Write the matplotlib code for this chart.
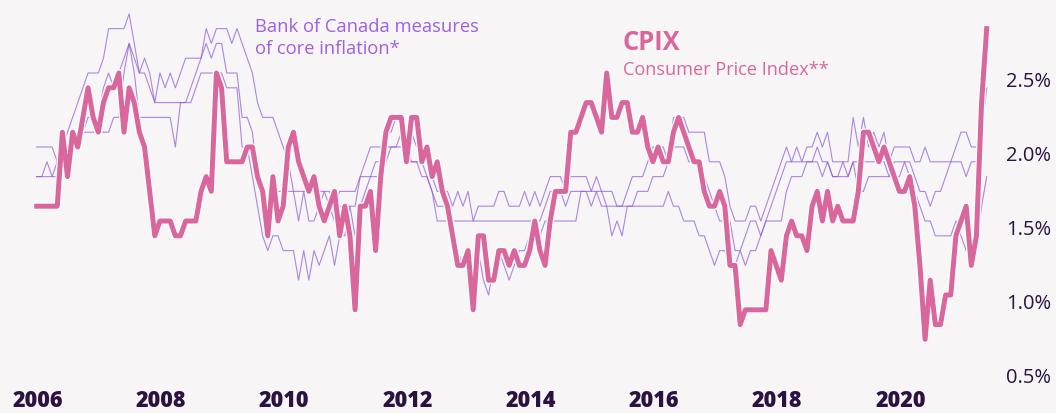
import numpy as np
import matplotlib
matplotlib.use("Agg")
import matplotlib.pyplot as plt
import matplotlib.patheffects as pe
from matplotlib.transforms import ScaledTranslation

# monthly y/y %, Jan 2006 .. Jun 2021
cpix = [
    1.6, 1.6, 1.6, 1.6, 1.6, 2.1, 1.8, 2.1, 2.0, 2.2, 2.4, 2.2,
    2.1, 2.3, 2.4, 2.4, 2.5, 2.1, 2.4, 2.3, 2.1, 2.0, 1.7, 1.4,
    1.5, 1.5, 1.5, 1.4, 1.4, 1.5, 1.5, 1.5, 1.7, 1.8, 1.7, 2.5,
    2.4, 1.9, 1.9, 1.9, 1.9, 2.0, 2.0, 1.8, 1.7, 1.4, 1.8, 1.5,
    1.6, 2.0, 2.1, 1.9, 1.8, 1.7, 1.8, 1.6, 1.5, 1.6, 1.7, 1.4,
    1.6, 1.4, 0.9, 1.6, 1.6, 1.7, 1.3, 1.8, 2.1, 2.2, 2.2, 2.2,
    1.9, 2.2, 2.2, 1.9, 2.0, 1.8, 1.9, 1.7, 1.6, 1.4, 1.2, 1.2,
    1.3, 0.9, 1.4, 1.4, 1.1, 1.1, 1.3, 1.3, 1.2, 1.3, 1.2, 1.2,
    1.3, 1.5, 1.3, 1.2, 1.5, 1.7, 1.7, 1.7, 2.1, 2.1, 2.2, 2.3,
    2.3, 2.2, 2.1, 2.5, 2.2, 2.2, 2.3, 2.3, 2.1, 2.1, 2.2, 2.0,
    1.9, 2.0, 1.9, 1.9, 2.1, 2.2, 2.1, 2.0, 1.9, 1.9, 1.7, 1.6,
    1.6, 1.7, 1.6, 1.2, 1.2, 0.8, 0.9, 0.9, 0.9, 0.9, 0.9, 1.3,
    1.2, 1.1, 1.4, 1.5, 1.4, 1.4, 1.3, 1.6, 1.7, 1.5, 1.7, 1.5,
    1.6, 1.5, 1.5, 1.5, 1.7, 2.1, 2.1, 2.0, 1.9, 2.0, 1.9, 1.8,
    1.7, 1.7, 1.8, 1.6, 1.2, 0.7, 1.1, 0.8, 0.8, 1.0, 1.0, 1.4,
    1.5, 1.6, 1.2, 1.4, 2.3, 2.8,
]

# Bank of Canada core measures, read as upper / middle / lower line each month
boc_upper = [
    2.0, 2.0, 2.0, 2.0, 1.9, 2.0, 2.1, 2.2, 2.3, 2.4, 2.5, 2.5,
    2.5, 2.6, 2.8, 2.8, 2.8, 2.8, 2.9, 2.7, 2.5, 2.6, 2.5, 2.3,
    2.5, 2.4, 2.5, 2.4, 2.5, 2.6, 2.6, 2.6, 2.6, 2.8, 2.7, 2.8,
    2.8, 2.8, 2.7, 2.8, 2.7, 2.6, 2.5, 2.3, 2.2, 2.2, 2.2, 2.1,
    2.0, 1.9, 1.7, 1.7, 1.7, 1.7, 1.7, 1.7, 1.7, 1.7, 1.6, 1.7,
    1.7, 1.7, 1.7, 1.8, 1.9, 2.0, 2.0, 2.0, 2.1, 2.1, 2.2, 2.2,
    2.1, 2.1, 2.0, 2.0, 1.9, 1.8, 1.7, 1.7, 1.7, 1.6, 1.7, 1.6,
    1.7, 1.5, 1.6, 1.6, 1.6, 1.6, 1.7, 1.7, 1.6, 1.6, 1.6, 1.7,
    1.6, 1.7, 1.6, 1.7, 1.8, 1.8, 1.8, 1.7, 1.8, 1.8, 1.8, 1.8,
    1.7, 1.8, 1.7, 1.7, 1.7, 1.6, 1.6, 1.7, 1.8, 1.8, 1.8, 1.9,
    2.0, 2.0, 2.0, 1.9, 2.2, 2.2, 2.2, 2.1, 2.1, 2.1, 2.1, 1.9,
    1.9, 1.9, 1.8, 1.6, 1.5, 1.5, 1.5, 1.6, 1.6, 1.5, 1.6, 1.7,
    1.8, 1.9, 2.0, 1.9, 2.0, 1.9, 2.0, 2.0, 2.1, 2.0, 2.1, 1.9,
    1.9, 1.9, 1.9, 2.2, 2.0, 2.2, 2.0, 2.1, 2.0, 2.1, 1.9, 2.0,
    2.0, 2.0, 2.0, 1.9, 1.9, 2.0, 1.9, 1.9, 1.9, 1.9, 1.9, 2.0,
    2.1, 2.1, 2.0, 2.0, 2.2, 2.6,
]
boc_middle = [
    1.8, 1.8, 1.9, 1.8, 1.9, 1.9, 2.0, 2.1, 2.1, 2.1, 2.2, 2.2,
    2.2, 2.4, 2.5, 2.4, 2.5, 2.6, 2.7, 2.6, 2.5, 2.5, 2.4, 2.3,
    2.3, 2.3, 2.3, 2.3, 2.3, 2.3, 2.4, 2.5, 2.6, 2.7, 2.6, 2.7,
    2.7, 2.5, 2.5, 2.5, 2.2, 2.2, 2.1, 1.8, 1.7, 1.6, 1.7, 1.7,
    1.7, 1.7, 1.7, 1.5, 1.7, 1.5, 1.5, 1.6, 1.7, 1.6, 1.5, 1.6,
    1.6, 1.6, 1.6, 1.8, 1.8, 1.8, 1.9, 1.9, 2.0, 2.0, 2.0, 2.1,
    2.0, 1.9, 1.9, 1.9, 1.8, 1.7, 1.6, 1.6, 1.6, 1.5, 1.5, 1.5,
    1.5, 1.5, 1.5, 1.5, 1.5, 1.5, 1.5, 1.5, 1.5, 1.5, 1.5, 1.5,
    1.5, 1.5, 1.5, 1.6, 1.7, 1.7, 1.7, 1.6, 1.7, 1.7, 1.7, 1.7,
    1.7, 1.7, 1.7, 1.6, 1.6, 1.6, 1.6, 1.6, 1.6, 1.7, 1.7, 1.7,
    1.8, 1.8, 1.8, 1.9, 2.0, 2.0, 2.0, 1.9, 1.9, 1.9, 1.8, 1.7,
    1.6, 1.5, 1.5, 1.5, 1.3, 1.3, 1.4, 1.5, 1.5, 1.4, 1.5, 1.6,
    1.7, 1.8, 1.9, 1.9, 1.9, 1.9, 1.9, 1.9, 2.0, 1.9, 1.9, 1.8,
    1.8, 1.9, 1.8, 1.9, 1.9, 1.9, 1.9, 1.9, 1.9, 1.9, 1.8, 1.9,
    1.9, 1.9, 1.9, 1.8, 1.7, 1.7, 1.6, 1.7, 1.7, 1.8, 1.9, 1.9,
    1.9, 1.8, 1.9, 1.9, 2.1, 2.4,
]
boc_lower = [
    1.8, 1.8, 1.8, 1.8, 1.8, 1.9, 1.9, 2.0, 2.0, 2.1, 2.1, 2.1,
    2.1, 2.1, 2.1, 2.2, 2.2, 2.5, 2.7, 2.5, 2.2, 2.2, 2.2, 2.2,
    2.2, 2.2, 2.2, 2.0, 2.3, 2.3, 2.3, 2.4, 2.5, 2.5, 2.5, 2.5,
    2.5, 2.4, 2.4, 2.4, 2.0, 2.0, 1.8, 1.6, 1.4, 1.3, 1.4, 1.4,
    1.3, 1.3, 1.3, 1.1, 1.3, 1.1, 1.3, 1.2, 1.3, 1.4, 1.2, 1.4,
    1.4, 1.6, 1.4, 1.6, 1.7, 1.8, 1.8, 1.8, 1.9, 2.0, 2.0, 2.0,
    1.9, 1.9, 1.9, 1.8, 1.8, 1.7, 1.5, 1.5, 1.5, 1.4, 1.3, 1.2,
    1.3, 1.2, 1.3, 1.1, 1.0, 1.2, 1.3, 1.2, 1.1, 1.2, 1.3, 1.3,
    1.4, 1.5, 1.4, 1.5, 1.5, 1.5, 1.5, 1.5, 1.5, 1.5, 1.7, 1.7,
    1.6, 1.7, 1.6, 1.6, 1.4, 1.5, 1.4, 1.6, 1.6, 1.6, 1.6, 1.6,
    1.6, 1.6, 1.6, 1.7, 1.6, 1.6, 1.5, 1.5, 1.5, 1.4, 1.4, 1.3,
    1.2, 1.3, 1.3, 1.2, 1.2, 1.3, 1.2, 1.3, 1.3, 1.4, 1.5, 1.5,
    1.5, 1.5, 1.7, 1.8, 1.8, 1.8, 1.9, 1.9, 1.9, 1.8, 1.9, 1.8,
    1.8, 1.8, 1.8, 1.9, 1.7, 1.7, 1.8, 1.8, 1.8, 1.8, 1.8, 1.8,
    1.8, 1.9, 1.8, 1.7, 1.6, 1.5, 1.5, 1.4, 1.4, 1.4, 1.4, 1.5,
    1.4, 1.3, 1.3, 1.3, 1.6, 1.8,
]

years = ["2006", "2008", "2010", "2012", "2014", "2016", "2018", "2020"]
pct_ticks = [0.5, 1.0, 1.5, 2.0, 2.5]

BG = "#f7f5f6"
PINK = "#d9669c"
PURPLE = "#8b58d8"
LABEL_PURPLE = "#a05fe1"
INK = "#2b1240"

plt.rcParams["font.family"] = ["Open Sans", "DejaVu Sans"]

fig = plt.figure(figsize=(10.56, 4.14), dpi=100)
fig.patch.set_facecolor(BG)
ax = fig.add_axes([36.7 / 1056, 44 / 414, 950 / 1056, 370 / 414])
ax.set_facecolor(BG)

x = np.arange(len(cpix))
for series in (boc_upper, boc_middle, boc_lower):
    ax.plot(x, series, color=PURPLE, lw=0.8, alpha=0.7, clip_on=False)

ax.plot(x, cpix, color=PINK, lw=3.6, zorder=5, clip_on=False,
        path_effects=[pe.Stroke(linewidth=5.4, foreground="white"), pe.Normal()])

ax.set_xlim(0, len(cpix) - 1)
ax.set_ylim(0.5, 3.0)
ax.set_xticks([])
ax.set_yticks([])
for sp in ax.spines.values():
    sp.set_visible(False)

# year labels under the axis, percent labels on the right
for i, yr in enumerate(years):
    ax.text(24 * i + 0.2, -43.5 / 370, yr, transform=ax.get_xaxis_transform(),
            ha="center", va="bottom", fontsize=15.5, fontweight="heavy", color=INK)

shift = ScaledTranslation(0, -0.133, fig.dpi_scale_trans)
for v in pct_ticks:
    ax.text((1006.5 - 36.7) / 950, v, f"{v:.1f}%", transform=ax.get_yaxis_transform() + shift,
            ha="left", va="baseline", fontsize=14.5, color=INK)

fig.text(255 / 1056, 1 - 32.5 / 414, "Bank of Canada measures", color=LABEL_PURPLE,
         fontsize=13.2, va="baseline")
fig.text(255 / 1056, 1 - 54.5 / 414, "of core inflation*", color=LABEL_PURPLE,
         fontsize=13.2, va="baseline")
fig.text(623 / 1056, 1 - 50 / 414, "CPIX", color=PINK, fontsize=18.4,
         fontweight="bold", va="baseline")
fig.text(623 / 1056, 1 - 75 / 414, "Consumer Price Index**", color=PINK,
         fontsize=13.1, va="baseline")

fig.savefig("out.png", dpi=100, facecolor=BG)
